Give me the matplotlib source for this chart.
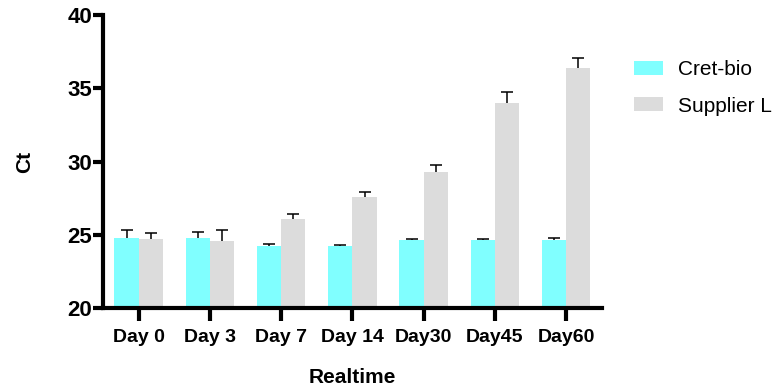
import numpy as np
import matplotlib.pyplot as plt

plt.rcParams['font.family'] = ['Liberation Sans', 'DejaVu Sans']

# Data
days = ['Day 0', 'Day 3', 'Day 7', 'Day 14', 'Day30', 'Day45', 'Day60']
cret_bio = [24.77, 24.77, 24.23, 24.22, 24.64, 24.64, 24.62]
cret_bio_err = [0.53, 0.43, 0.12, 0.06, 0.06, 0.06, 0.16]
supplier_l = [24.7, 24.55, 26.1, 27.6, 29.26, 33.97, 36.38]
supplier_l_err = [0.4, 0.75, 0.3, 0.35, 0.5, 0.8, 0.72]

cyan = '#80FFFF'
grey = '#DCDCDC'

fig = plt.figure(figsize=(7.77, 3.87), dpi=100)
ax = fig.add_axes([0.1326, 0.204, 0.642, 0.757])

x = np.arange(len(days))
w = 0.34
ax.bar(x - w / 2, cret_bio, w, color=cyan, label='Cret-bio', zorder=2)
ax.bar(x + w / 2, supplier_l, w, color=grey, label='Supplier L', zorder=2)

# upper-only error bars
for xs, vals, errs in [(x - w / 2, cret_bio, cret_bio_err),
                       (x + w / 2, supplier_l, supplier_l_err)]:
    eb = ax.errorbar(xs, vals, yerr=[np.zeros(len(errs)), errs], fmt='none',
                     ecolor='black', elinewidth=1.1, capsize=4.5, capthick=1.1,
                     zorder=3)
    eb[1][0].set_visible(False)

ax.set_ylim(20, 40)
ax.set_xlim(-0.5, len(days) - 0.5)
ax.set_yticks([20, 25, 30, 35, 40])
ax.set_xticks(x)
ax.set_xticklabels(days)

for s in ['top', 'right']:
    ax.spines[s].set_visible(False)
for s in ['left', 'bottom']:
    ax.spines[s].set_linewidth(3)
ax.tick_params(axis='x', length=9, width=3, labelsize=14, pad=6)
ax.tick_params(axis='y', length=7, width=3, labelsize=16, pad=1)
for lab in ax.get_xticklabels() + ax.get_yticklabels():
    lab.set_fontweight('bold')

ax.set_ylabel('Ct', fontsize=15, fontweight='bold', labelpad=24)
ax.set_xlabel('Realtime', fontsize=15, fontweight='bold', labelpad=16)

ax.legend(loc='upper left', bbox_to_anchor=(634 / 777, 1 - 60 / 387),
          bbox_transform=fig.transFigure, frameon=False, borderpad=0,
          borderaxespad=0, fontsize=15, handlelength=1.4, handleheight=0.67,
          handletextpad=0.72, labelspacing=0.85)

fig.savefig('out.png', dpi=100)
